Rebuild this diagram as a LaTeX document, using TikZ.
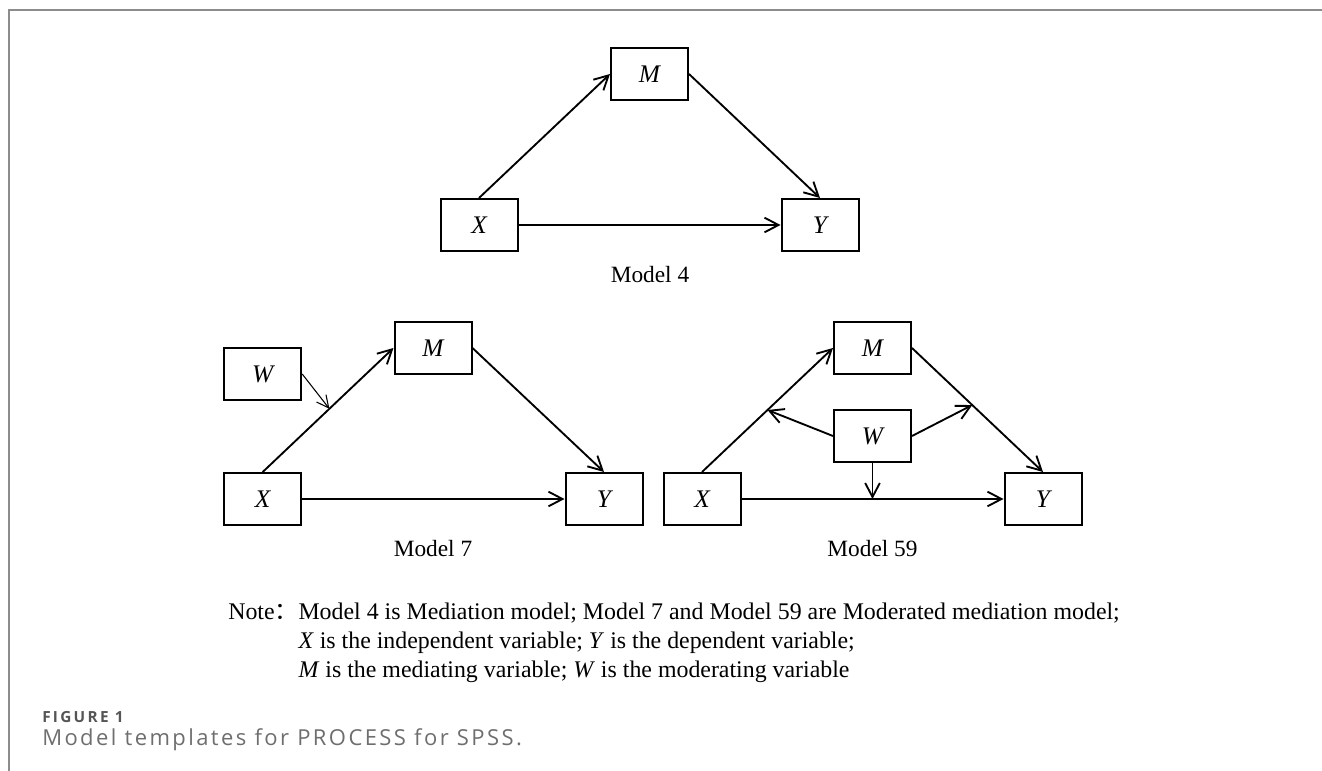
\documentclass[tikz,border=0pt]{standalone}
\usepackage{fontspec}
\setmainfont{Liberation Serif}
\newfontfamily\capfont[LetterSpace=11]{Open Sans}
\newfontfamily\figfont[LetterSpace=15]{Open Sans}
\newfontfamily\cjkfont{Noto Sans CJK SC}
\usepackage{xcolor}
\usetikzlibrary{arrows.meta, positioning, calc}
\definecolor{framegray}{HTML}{8C8C8C}
\definecolor{figgray}{HTML}{555555}
\definecolor{capgray}{HTML}{6E6E6E}

\begin{document}
\begin{tikzpicture}[
    x=0.75pt,
    y=-0.75pt,
    varbox/.style={
        rectangle,
        draw,
        line width=1.5pt,
        minimum width=57.75pt,
        minimum height=39pt,
        inner sep=0pt,
        font=\fontsize{19}{22}\selectfont\itshape
    },
    modellabel/.style={anchor=base, inner sep=0pt, font=\fontsize{17.5}{21}\selectfont},
    arrow/.style={-{Straight Barb[length=10.5pt,width=11pt]}, line width=1.4pt},
    thinarrow/.style={-{Straight Barb[length=9pt,width=9pt]}, line width=0.8pt}
]

\useasboundingbox (0,0) rectangle (1322,771);
\draw[framegray, line width=1.5pt] (9,771) -- (9,10) -- (1322,10);

\node[varbox] (X4) at (479,225) {X};
\node[varbox] (M4) at (649.5,74) {M};
\node[varbox] (Y4) at (820,225) {Y};
\node[modellabel] (lab4) at (650,282) {Model 4};

\draw[arrow] (X4.north) -- (M4.west);
\draw[arrow] (M4.east) -- (Y4.north);
\draw[arrow] (X4) -- (Y4);

\node[varbox] (W7) at (262.7,374) {W};
\node[varbox] (M7) at (433,348) {M};
\node[varbox] (X7) at (262.7,499) {X};
\node[varbox] (Y7) at (604,499) {Y};
\node[modellabel] (lab7) at (433,556.5) {Model 7};

\draw[arrow] (X7.north) -- (M7.west);
\draw[arrow] (M7.east) -- (Y7.north);
\draw[arrow] (X7) -- (Y7);
\coordinate (mod7) at ($(X7.north)!0.51!(M7.west)$);
\draw[thinarrow] (W7.east) -- (mod7);

\node[varbox] (M59) at (872.5,348) {M};
\node[varbox] (W59) at (872.5,436) {W};
\node[varbox] (X59) at (702,499) {X};
\node[varbox] (Y59) at (1043,499) {Y};
\node[modellabel] (lab59) at (872.5,556.5) {Model 59};

\draw[arrow] (X59.north) -- (M59.west);
\draw[arrow] (M59.east) -- (Y59.north);
\draw[arrow] (X59) -- (Y59);
\coordinate (modA) at ($(X59.north)!0.5!(M59.west)$);
\coordinate (modB) at ($(M59.east)!0.46!(Y59.north)$);
\coordinate (modC) at (W59.south |- X59.east);
\draw[arrow] (W59.west) -- (modA);
\draw[arrow] (W59.east) -- (modB);
\draw[arrow] (W59.south) -- (modC);

\node[anchor=base west, inner sep=0pt, font=\fontsize{17.9}{21.75}\selectfont] (note) at (228,619) {%
    \begin{tabular}[t]{@{}l@{}l@{}}
    Note{\cjkfont ：} & Model 4 is Mediation model; Model 7 and Model 59 are Moderated mediation model;\\
     & \textit{X} is the independent variable; \textit{Y} is the dependent variable;\\
     & \textit{M} is the mediating variable; \textit{W} is the moderating variable
    \end{tabular}};

\node[anchor=base west, inner sep=0pt, text=figgray, font=\figfont\bfseries\fontsize{11.5}{13}\selectfont] (figlabel) at (42,722.7) {FIGURE 1};
\node[anchor=base west, inner sep=0pt, text=capgray, font=\capfont\fontsize{16.5}{19}\selectfont] (caption) at (42,745.7) {Model templates for PROCESS for SPSS.};

\end{tikzpicture}
\end{document}
